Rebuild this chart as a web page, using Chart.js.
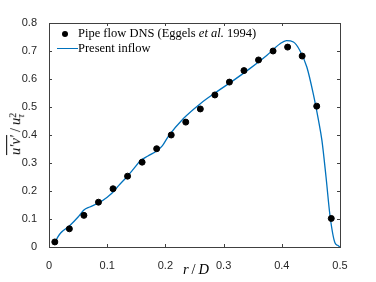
<!DOCTYPE html>
<html>
<head>
<meta charset="utf-8">
<script src="https://cdn.jsdelivr.net/npm/chart.js@4"></script>
<style>
  html, body { margin: 0; padding: 0; background: #fff; }
  #wrap { position: relative; width: 376px; height: 282px; }
  .lbl { position: absolute; font-family: 'Liberation Serif', serif; color: #000; white-space: nowrap; }
</style>
</head>
<body>
<div id="wrap">
  <canvas id="profileChart" width="376" height="282"></canvas>

  <div class="lbl" style="left:62px; top:31px; width:6px; height:6px; border-radius:50%; background:#000;"></div>
  <div class="lbl" style="left:78px; top:26px; font-size:12.5px;">Pipe flow DNS (Eggels <i>et al.</i> 1994)</div>
  <div class="lbl" style="left:57px; top:48px; width:21px; height:0; border-top:1.5px solid #0072BD;"></div>
  <div class="lbl" style="left:78px; top:41px; font-size:12.5px;">Present inflow</div>

  <div class="lbl" style="left:183px; top:261px; font-size:14.5px;"><i>r</i>&thinsp;/&thinsp;<i>D</i></div>
  <div class="lbl" style="left:16px; top:134px; font-size:14.5px; transform: translate(-50%,-50%) rotate(-90deg);">
    <i style="text-decoration: overline;">u′v′</i>&thinsp;/&thinsp;<i>u</i><span style="display:inline-block; vertical-align:middle; line-height:8px; font-size:10px;"><span style="display:block;">2</span><span style="display:block;"><i>τ</i></span></span>
  </div>
</div>
<script>
// Eggels et al. 1994 DNS points
const dnsR = [0.01, 0.035, 0.06, 0.085, 0.11, 0.135, 0.16, 0.185, 0.21, 0.235,
              0.26, 0.285, 0.31, 0.335, 0.36, 0.385, 0.41, 0.435, 0.46, 0.485];
const dnsUV = [0.018, 0.065, 0.113, 0.16, 0.208, 0.253, 0.303, 0.351, 0.40, 0.446,
               0.493, 0.543, 0.589, 0.630, 0.668, 0.700, 0.714, 0.682, 0.503, 0.102];

// present inflow profile
const inflowR = [0.01, 0.015, 0.02, 0.035, 0.05, 0.06, 0.07, 0.085, 0.1, 0.108, 0.12, 0.134,
                 0.145, 0.157, 0.17, 0.186, 0.195, 0.205, 0.231, 0.26, 0.288, 0.317, 0.345,
                 0.374, 0.397, 0.408, 0.42, 0.431, 0.443, 0.454, 0.463, 0.469, 0.476, 0.483,
                 0.4915, 0.496, 0.5];
const inflowUV = [0.015, 0.035, 0.05, 0.075, 0.107, 0.132, 0.143, 0.157, 0.178, 0.192, 0.22, 0.251,
                  0.278, 0.308, 0.325, 0.345, 0.362, 0.395, 0.459, 0.512, 0.554, 0.595, 0.637,
                  0.684, 0.726, 0.737, 0.732, 0.702, 0.643, 0.548, 0.453, 0.38, 0.25, 0.109,
                  0.014, 0.006, 0.0];

const xTicks = [0, 0.1, 0.2, 0.3, 0.4, 0.5];
const yTicks = [0, 0.1, 0.2, 0.3, 0.4, 0.5, 0.6, 0.7, 0.8];

const axisColor = '#404040';

// box around the axes with inward ticks on all four sides
const boxTicks = {
    id: 'boxTicks',
    afterDatasetsDraw(chart) {
        const { ctx, chartArea: a, scales } = chart;
        ctx.save();
        ctx.strokeStyle = axisColor;
        ctx.lineWidth = 1;
        ctx.strokeRect(a.left + 0.5, a.top + 0.5, a.right - a.left, a.bottom - a.top);
        const len = 3;
        ctx.beginPath();
        xTicks.forEach(v => {
            const px = Math.round(scales.x.getPixelForValue(v)) + 0.5;
            ctx.moveTo(px, a.bottom); ctx.lineTo(px, a.bottom - len);
            ctx.moveTo(px, a.top); ctx.lineTo(px, a.top + len);
        });
        yTicks.forEach(v => {
            const py = Math.round(scales.y.getPixelForValue(v)) + 0.5;
            ctx.moveTo(a.left, py); ctx.lineTo(a.left + len, py);
            ctx.moveTo(a.right, py); ctx.lineTo(a.right - len, py);
        });
        ctx.stroke();
        ctx.restore();
    }
};

new Chart(document.getElementById('profileChart'), {
    type: 'scatter',
    data: {
        datasets: [{
            label: 'Present inflow',
            data: inflowR.map((r, i) => ({ x: r, y: inflowUV[i] })),
            showLine: true,
            borderColor: '#0072BD',
            borderWidth: 1.3,
            pointRadius: 0,
            cubicInterpolationMode: 'monotone',
            order: 2
        }, {
            label: 'Pipe flow DNS (Eggels et al. 1994)',
            data: dnsR.map((r, i) => ({ x: r, y: dnsUV[i] })),
            backgroundColor: '#000',
            borderColor: '#000',
            pointRadius: 3,
            order: 1
        }]
    },
    options: {
        responsive: false,
        animation: false,
        layout: { padding: { left: 0, top: 23, right: 36, bottom: 0 } },
        plugins: {
            legend: { display: false },
            tooltip: { enabled: false }
        },
        scales: {
            x: {
                type: 'linear',
                min: 0, max: 0.5,
                afterBuildTicks: s => { s.ticks = xTicks.map(v => ({ value: v })); },
                afterFit: s => { s.height = 35; },
                grid: { display: false },
                border: { display: false },
                ticks: {
                    color: '#262626',
                    padding: 4,
                    font: { family: 'Liberation Sans', size: 11 }
                }
            },
            y: {
                min: 0, max: 0.8,
                afterBuildTicks: s => { s.ticks = yTicks.map(v => ({ value: v })); },
                afterFit: s => { s.width = 49; },
                grid: { display: false },
                border: { display: false },
                ticks: {
                    color: '#262626',
                    padding: 4,
                    font: { family: 'Liberation Sans', size: 11 }
                }
            }
        }
    },
    plugins: [boxTicks]
});
</script>
</body>
</html>
